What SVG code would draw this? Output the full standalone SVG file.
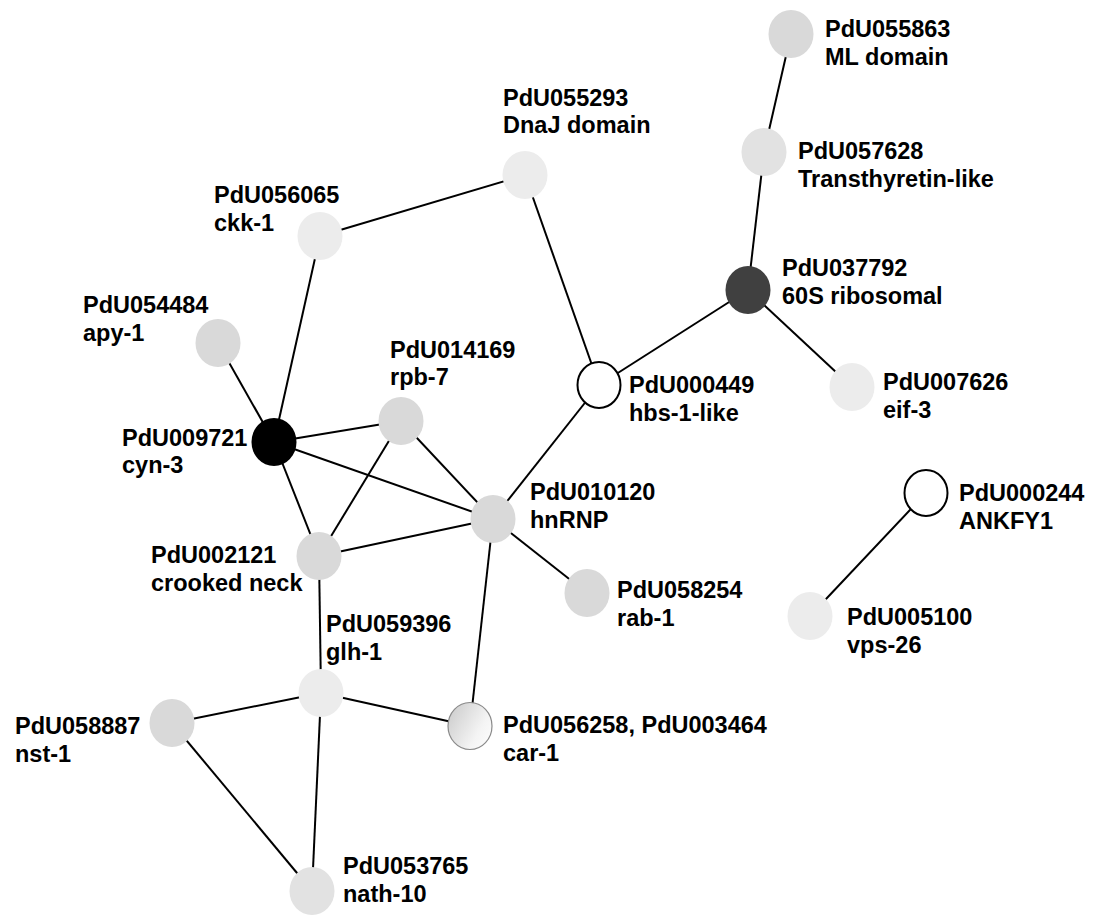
<svg xmlns="http://www.w3.org/2000/svg" width="1101" height="919" viewBox="0 0 1101 919">
<style>
.e{stroke:#000;stroke-width:2;fill:none}
.n{stroke:none}
.g1{fill:#d9d9d9}
.g2{fill:#ececec}
.g3{fill:#e2e2e2}
.w{fill:#fff;stroke:#000;stroke-width:2}
.k{fill:#000}
.d{fill:#404040}
text{font-family:"Liberation Sans",Arial,sans-serif;font-weight:bold;font-size:23.5px;fill:#000}
</style>
<defs>
<linearGradient id="grad" x1="0" y1="0.2" x2="1" y2="0.8">
<stop offset="0" stop-color="#cdcdcd"/>
<stop offset="0.7" stop-color="#f4f4f4"/>
<stop offset="1" stop-color="#fcfcfc"/>
</linearGradient>
</defs>
<g id="connectors">
<line class="e" x1="791" y1="34" x2="764" y2="152"/>
<line class="e" x1="764" y1="152" x2="748" y2="290"/>
<line class="e" x1="748" y1="290" x2="599" y2="385"/>
<line class="e" x1="748" y1="290" x2="852" y2="387"/>
<line class="e" x1="525" y1="175" x2="320" y2="236"/>
<line class="e" x1="525" y1="175" x2="599" y2="385"/>
<line class="e" x1="599" y1="385" x2="493" y2="519"/>
<line class="e" x1="320" y1="236" x2="274" y2="442"/>
<line class="e" x1="218" y1="343" x2="274" y2="442"/>
<line class="e" x1="274" y1="442" x2="401" y2="421"/>
<line class="e" x1="274" y1="442" x2="493" y2="519"/>
<line class="e" x1="274" y1="442" x2="319" y2="556"/>
<line class="e" x1="401" y1="421" x2="319" y2="556"/>
<line class="e" x1="401" y1="421" x2="493" y2="519"/>
<line class="e" x1="493" y1="519" x2="319" y2="556"/>
<line class="e" x1="493" y1="519" x2="587" y2="593"/>
<line class="e" x1="493" y1="519" x2="470" y2="726"/>
<line class="e" x1="319" y1="556" x2="321" y2="693"/>
<line class="e" x1="321" y1="693" x2="172" y2="723"/>
<line class="e" x1="321" y1="693" x2="470" y2="726"/>
<line class="e" x1="321" y1="693" x2="312" y2="891"/>
<line class="e" x1="172" y1="723" x2="312" y2="891"/>
<line class="e" x1="926" y1="493" x2="810" y2="616"/>
</g>
<g id="PdU055863"><ellipse class="n g1" cx="791" cy="34" rx="22.5" ry="24"/><text x="825" y="37">PdU055863</text><text x="825" y="65">ML domain</text></g>
<g id="PdU057628"><ellipse class="n g3" cx="764" cy="152" rx="22.5" ry="24"/><text x="798" y="159">PdU057628</text><text x="798" y="187">Transthyretin-like</text></g>
<g id="PdU037792"><ellipse class="n d" cx="748" cy="290" rx="22.5" ry="24"/><text x="782" y="276">PdU037792</text><text x="782" y="304">60S ribosomal</text></g>
<g id="PdU007626"><ellipse class="n g2" cx="852" cy="387" rx="22.5" ry="24"/><text x="883" y="390">PdU007626</text><text x="883" y="418">eif-3</text></g>
<g id="PdU000449"><ellipse class="w" cx="599" cy="385" rx="21.5" ry="23"/><text x="629" y="393">PdU000449</text><text x="629" y="421">hbs-1-like</text></g>
<g id="PdU055293"><ellipse class="n g2" cx="525" cy="175" rx="22.5" ry="24"/><text x="503" y="106">PdU055293</text><text x="503" y="133">DnaJ domain</text></g>
<g id="PdU056065"><ellipse class="n g2" cx="320" cy="236" rx="22.5" ry="24"/><text x="214" y="203">PdU056065</text><text x="214" y="231">ckk-1</text></g>
<g id="PdU054484"><ellipse class="n g1" cx="218" cy="343" rx="22.5" ry="24"/><text x="83" y="313">PdU054484</text><text x="83" y="341">apy-1</text></g>
<g id="PdU009721"><ellipse class="n k" cx="274" cy="442" rx="22.5" ry="24"/><text x="122" y="446">PdU009721</text><text x="122" y="473">cyn-3</text></g>
<g id="PdU014169"><ellipse class="n g1" cx="401" cy="421" rx="22.5" ry="24"/><text x="390" y="358">PdU014169</text><text x="390" y="385">rpb-7</text></g>
<g id="PdU010120"><ellipse class="n g1" cx="493" cy="519" rx="22.5" ry="24"/><text x="530" y="500">PdU010120</text><text x="530" y="528">hnRNP</text></g>
<g id="PdU058254"><ellipse class="n g1" cx="587" cy="593" rx="22.5" ry="24"/><text x="617" y="598">PdU058254</text><text x="617" y="626">rab-1</text></g>
<g id="PdU002121"><ellipse class="n g1" cx="319" cy="556" rx="22.5" ry="24"/><text x="151" y="563">PdU002121</text><text x="151" y="591">crooked neck</text></g>
<g id="PdU059396"><ellipse class="n g2" cx="321" cy="693" rx="22.5" ry="24"/><text x="326" y="632">PdU059396</text><text x="326" y="660">glh-1</text></g>
<g id="PdU058887"><ellipse class="n g1" cx="172" cy="723" rx="22.5" ry="24"/><text x="15" y="734">PdU058887</text><text x="15" y="762">nst-1</text></g>
<g id="PdU056258"><ellipse cx="470" cy="726" rx="22" ry="23.5" fill="url(#grad)" stroke="#8a8a8a" stroke-width="1.2"/><text x="503" y="733">PdU056258, PdU003464</text><text x="503" y="761">car-1</text></g>
<g id="PdU053765"><ellipse class="n g3" cx="312" cy="891" rx="22.5" ry="24"/><text x="343" y="874">PdU053765</text><text x="343" y="902">nath-10</text></g>
<g id="PdU000244"><ellipse class="w" cx="926" cy="493" rx="21.5" ry="23"/><text x="959" y="501">PdU000244</text><text x="959" y="529">ANKFY1</text></g>
<g id="PdU005100"><ellipse class="n g2" cx="810" cy="616" rx="22.5" ry="24"/><text x="847" y="625">PdU005100</text><text x="847" y="653">vps-26</text></g>
</svg>
